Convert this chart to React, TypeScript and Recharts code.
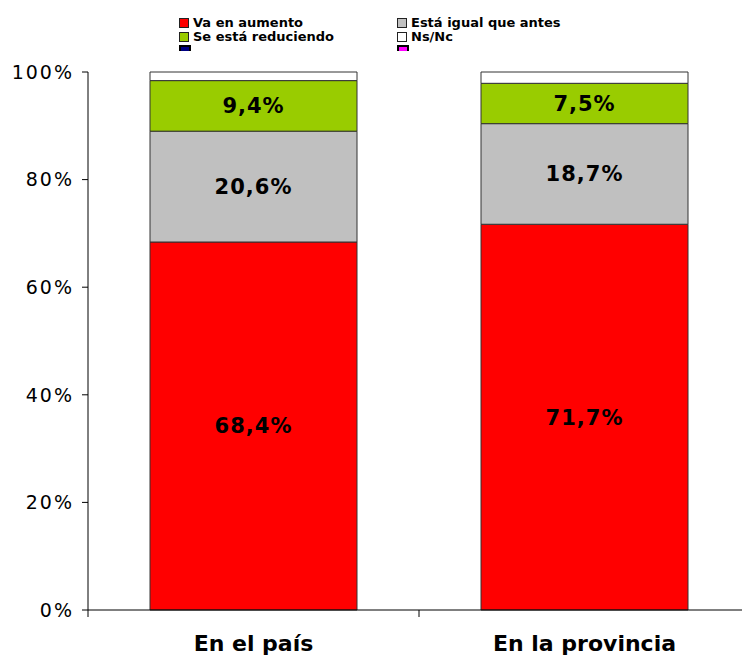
import React from "react";
import { BarChart, Bar, XAxis, YAxis, LabelList } from "recharts";

// ── Data ──────────────────────────────────────────────────────

const categories = ["En el país", "En la provincia"];
const aumento = [68.4, 71.7];
const igual = [20.6, 18.7];
const reduciendo = [9.4, 7.5];
const nsnc = [1.6, 2.1];
const yTicks = [0, 20, 40, 60, 80, 100];

const SERIES = [
  { key: "aumento", name: "Va en aumento", color: "#ff0000", label: true },
  { key: "igual", name: "Está igual que antes", color: "#c0c0c0", label: true },
  { key: "reduciendo", name: "Se está reduciendo", color: "#99cc00", label: true },
  { key: "nsnc", name: "Ns/Nc", color: "#ffffff", label: false },
];

// legend shows two extra empty entries (navy, magenta), clipped at the bottom
const LEGEND = [
  { name: "Va en aumento", color: "#ff0000" },
  { name: "Está igual que antes", color: "#c0c0c0" },
  { name: "Se está reduciendo", color: "#99cc00" },
  { name: "Ns/Nc", color: "#ffffff" },
  { name: "", color: "#000080" },
  { name: "", color: "#ff00ff" },
];

const data = categories.map((name, i) => ({
  name,
  aumento: aumento[i],
  igual: igual[i],
  reduciendo: reduciendo[i],
  nsnc: nsnc[i],
}));

// ── Layout ────────────────────────────────────────────────────

const W = 742;
const H = 655;
const LEFT = 88;
const RIGHT = -8; // plot area runs a little past the window edge
const PLOT_W = W - LEFT - RIGHT;
const FONT = "'DejaVu Sans', Verdana, sans-serif";

const fmtPct = (v: number) => `${v.toFixed(1).replace(".", ",")}%`;

function CategoryTick(props: any) {
  const { x, y, payload } = props;
  const half = PLOT_W / categories.length / 2;
  return (
    <g>
      <line x1={x - half} x2={x - half} y1={y} y2={y + 7} stroke="#000" />
      <text
        x={x}
        y={y + 33}
        textAnchor="middle"
        dominantBaseline="central"
        fontFamily={FONT}
        fontWeight="bold"
        fontSize={22}
        fill="#000"
      >
        {payload.value}
      </text>
    </g>
  );
}

function ChartLegend() {
  return (
    <div
      style={{
        position: "absolute",
        left: 179,
        top: 16,
        width: 440,
        height: 35,
        overflow: "hidden",
        display: "grid",
        gridTemplateColumns: "218px 218px",
        gridAutoRows: "14px",
        fontFamily: FONT,
        fontWeight: "bold",
        fontSize: 13,
        color: "#000",
      }}
    >
      {LEGEND.map((item, i) => (
        <div key={i} style={{ display: "flex", alignItems: "center", gap: 4, lineHeight: "14px" }}>
          <span
            style={{
              display: "inline-block",
              width: 8,
              height: 8,
              background: item.color,
              border: i >= 4 ? "2px solid #000" : "1px solid #222",
              boxSizing: "content-box",
            }}
          />
          {item.name}
        </div>
      ))}
    </div>
  );
}

export default function App() {
  return (
    <div
      style={{
        position: "absolute",
        left: 0,
        top: 0,
        width: W,
        height: H,
        overflow: "hidden",
        background: "#fff",
      }}
    >
      <ChartLegend />
      <BarChart
        width={W}
        height={H}
        data={data}
        margin={{ top: 72, right: RIGHT, bottom: 0, left: 0 }}
        barSize={207}
        style={{ overflow: "hidden" }}
      >
        <XAxis
          dataKey="name"
          height={45}
          axisLine={{ stroke: "#000" }}
          tickLine={false}
          tickSize={0}
          tickMargin={0}
          tick={<CategoryTick />}
        />
        <YAxis
          width={LEFT}
          domain={[0, 100]}
          ticks={yTicks}
          interval={0}
          tickFormatter={(v: number) => `${v}%`}
          axisLine={{ stroke: "#000" }}
          tickLine={{ stroke: "#000" }}
          tickSize={6}
          tickMargin={8}
          tick={{ fill: "#000", fontSize: 19, fontFamily: FONT, letterSpacing: 2 }}
        />
        {SERIES.map((s) => (
          <Bar
            key={s.key}
            dataKey={s.key}
            name={s.name}
            stackId="a"
            fill={s.color}
            stroke="#333"
            strokeWidth={1}
            isAnimationActive={false}
          >
            {s.label && (
              <LabelList
                dataKey={s.key}
                position="center"
                formatter={(v: any) => fmtPct(Number(v))}
                style={{
                  fill: "#000",
                  fontSize: 21,
                  fontWeight: "bold",
                  fontFamily: FONT,
                  letterSpacing: 1,
                }}
              />
            )}
          </Bar>
        ))}
      </BarChart>
    </div>
  );
}
